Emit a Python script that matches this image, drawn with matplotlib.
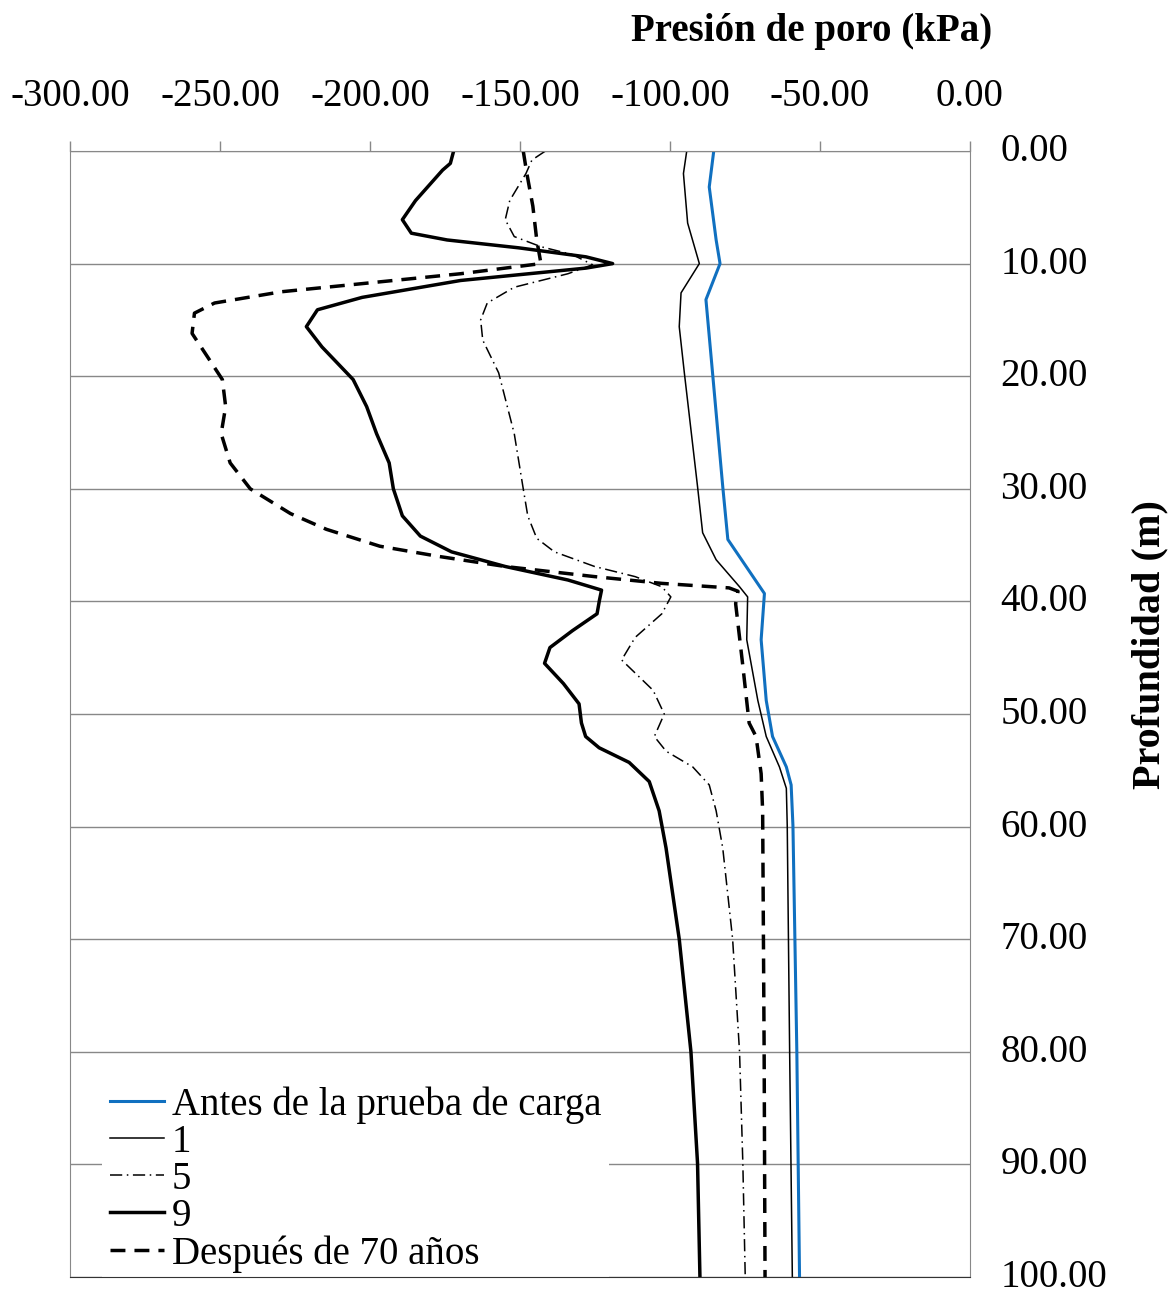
import numpy as np
import matplotlib
matplotlib.use('Agg')
import matplotlib.pyplot as plt
import matplotlib.transforms as mtransforms
from matplotlib.ticker import MultipleLocator, FormatStrFormatter

plt.rcParams['font.family'] = ['Liberation Serif', 'DejaVu Serif']

# profundidad (m) / presion de poro (kPa)
z_antes = [0, 3.2, 7.9, 10.0, 13.2, 19.7, 29.8, 34.5, 36.9, 39.3, 43.4, 48.8, 52.0, 54.7, 56.3, 59.9, 80.0, 100]
p_antes = [-85.4, -86.9, -84.6, -83.3, -88.0, -85.8, -82.4, -80.7, -74.6, -68.5, -69.6, -67.9, -65.8, -61.2, -59.6, -59.0, -57.7, -56.8]

z_1 = [0, 2.0, 6.4, 10.0, 12.6, 15.6, 19.7, 29.8, 33.9, 36.3, 38.7, 39.6, 43.4, 48.8, 52.0, 54.7, 56.6, 59.9, 80.0, 100]
p_1 = [-94.4, -95.5, -94.1, -90.2, -96.3, -96.9, -95.2, -90.8, -89.1, -84.6, -76.8, -74.1, -74.4, -70.7, -67.9, -63.5, -61.2, -60.9, -60.1, -59.2]

z_5 = [0, 0.8, 2.0, 4.4, 6.1, 7.6, 8.5, 9.2, 10.1, 10.9, 12.1, 13.5, 15.0, 16.8, 19.7, 25.1,
       30.0, 32.4, 34.4, 35.6, 36.9, 37.8, 38.7, 39.6, 41.1, 43.2, 45.2, 47.9, 50.0, 52.0,
       53.3, 54.7, 56.3, 58.6, 61.9, 70.0, 80.0, 89.9, 100]
p_5 = [-141.5, -146.0, -148.0, -153.4, -154.9, -151.9, -143.0, -132.5, -125.8, -134.0, -151.9, -160.9, -163.1, -162.4, -157.1, -151.9,
       -148.9, -147.4, -144.4, -138.5, -125.1, -111.6, -102.7, -99.7, -102.7, -111.6, -116.1, -105.6, -101.9, -105.2,
       -101.3, -92.4, -86.9, -84.6, -82.4, -79.1, -76.8, -75.7, -74.9]

z_9 = [0, 1.1, 1.7, 2.6, 4.4, 6.1, 7.3, 7.9, 8.6, 9.4, 10.0, 10.4, 11.5, 13.0, 14.1, 15.6, 17.4, 20.3, 22.7, 25.1,
       27.7, 30.0, 32.4, 34.2, 35.6, 36.9, 38.1, 39.0, 39.9, 41.1, 42.6, 44.1, 45.5, 47.3, 49.1, 50.8, 52.0,
       53.0, 54.3, 56.0, 58.6, 61.9, 70.0, 80.0, 89.9, 100]
p_9 = [-172.1, -173.2, -175.8, -178.8, -184.8, -189.2, -186.2, -174.3, -150.4, -128.0, -119.1, -128.0, -169.8, -202.6, -217.5, -221.2, -216.0, -205.6, -201.1, -197.8,
       -193.6, -192.2, -189.2, -183.2, -172.8, -154.9, -134.0, -122.8, -123.5, -124.3, -132.5, -140.0, -141.8, -135.5, -130.3, -129.5, -128.1,
       -123.6, -113.6, -106.9, -103.6, -101.3, -96.9, -93.0, -90.8, -90.0]

z_70 = [0, 2.0, 4.9, 7.9, 10.0, 10.9, 11.5, 12.5, 13.5, 14.4, 16.2, 18.3, 20.3, 22.7, 25.1,
        27.7, 30.0, 32.2, 33.6, 35.1, 36.0, 36.9, 37.8, 38.4, 38.8, 39.1, 40.2, 45.5, 50.8,
        52.0, 55.3, 58.6, 80.0, 100]
p_70 = [-148.9, -147.7, -145.7, -144.4, -143.0, -169.8, -192.2, -229.5, -251.8, -258.5, -259.3, -254.1, -249.2, -248.1, -249.6,
        -246.6, -239.9, -226.5, -214.5, -196.7, -177.2, -154.9, -125.1, -102.7, -80.3, -77.3, -78.1, -75.8, -73.6,
        -71.3, -69.6, -69.1, -68.6, -68.3]

fig = plt.figure(figsize=(11.7, 12.95), dpi=100)
ax = fig.add_axes([0.0598, 0.0139, 0.7692, 0.8695])

ax.plot(p_antes, z_antes, color='#1070c0', lw=2.2, label='Antes de la prueba de carga')
ax.plot(p_1, z_1, color='black', lw=1.1, label='1')
ax.plot(p_5, z_5, color='black', lw=1.1, dashes=(8, 3, 1, 3), label='5')
ax.plot(p_9, z_9, color='black', lw=2.5, label='9')
ax.plot(p_70, z_70, color='black', lw=2.5, dashes=(4.3, 2.6), label='Después de 70 años')

ax.set_xlim(-300, 0)
ax.set_ylim(100, 0)
ax.xaxis.set_major_locator(MultipleLocator(50))
ax.yaxis.set_major_locator(MultipleLocator(10))
ax.xaxis.set_major_formatter(FormatStrFormatter('%.2f'))
ax.yaxis.set_major_formatter(FormatStrFormatter('%.2f'))
ax.xaxis.tick_top()
ax.yaxis.tick_right()
ax.tick_params(axis='x', length=7, width=1, color='#888888', pad=19, labelsize=28)
ax.tick_params(axis='y', length=0, pad=22, labelsize=28)
ax.grid(axis='y', color='#888888', lw=1)
ax.set_axisbelow(True)
for s in ['top', 'right', 'left']:
    ax.spines[s].set_color('#888888')
ax.spines['bottom'].set_color('#333333')

# nudge the depth labels up a little so 100.00 stays inside the figure
shift = mtransforms.ScaledTranslation(0, 4/100, fig.dpi_scale_trans)
for lbl in ax.get_yticklabels():
    lbl.set_transform(lbl.get_transform() + shift)

leg = ax.legend(loc='lower left', bbox_to_anchor=(0.0356, -0.003), fontsize=28, frameon=True,
                handlelength=1.4, handletextpad=0.2, labelspacing=0.0, borderpad=0.2,
                borderaxespad=0.0, fancybox=False)
leg.get_frame().set_edgecolor('none')
leg.get_frame().set_facecolor('white')
leg.get_frame().set_alpha(1)
leg.set_zorder(1.5)

fig.text(812/1170, 1 - 32/1295, 'Presión de poro (kPa)', fontsize=28, fontweight='bold',
         ha='center', va='center')
fig.text(1150/1170, 1 - 645/1295, 'Profundidad (m)', fontsize=29, fontweight='bold',
         ha='center', va='center', rotation=90)

fig.savefig('out.png', dpi=100)
